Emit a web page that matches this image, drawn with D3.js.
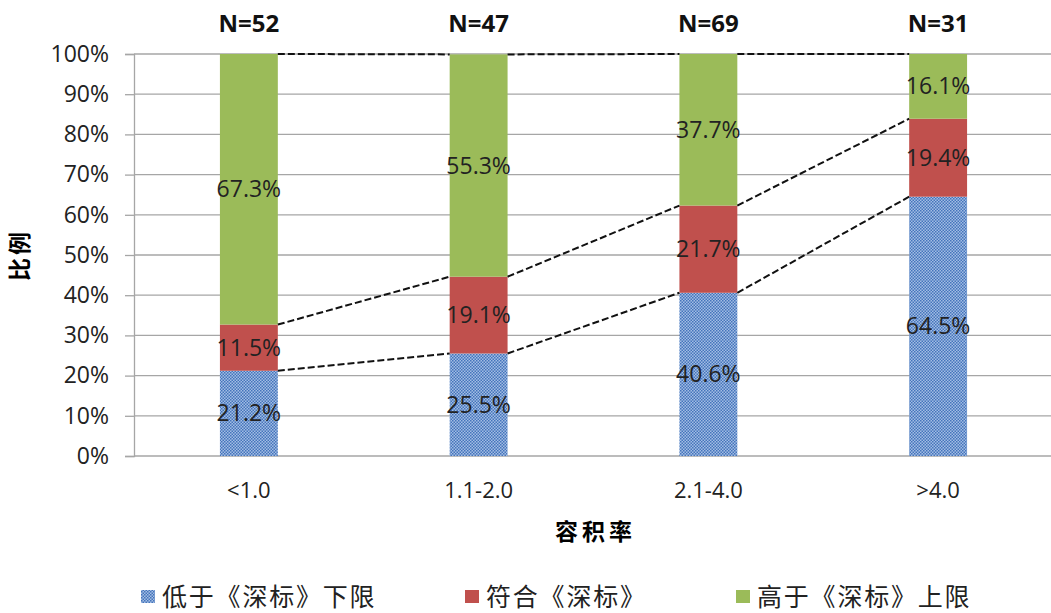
<!DOCTYPE html>
<html>
<head>
<meta charset="utf-8">
<script src="https://cdn.jsdelivr.net/npm/d3@7"></script>
<style>
  body { margin: 0; background: #fff; }
  text { font-family: "Open Sans", "Liberation Sans", "Noto Sans CJK SC", sans-serif; }
</style>
</head>
<body>
<div id="chart"></div>
<script>
// data
var categories = ["<1.0", "1.1-2.0", "2.1-4.0", ">4.0"];
var counts = [52, 47, 69, 31];
var below = [21.2, 25.5, 40.6, 64.5];
var within = [11.5, 19.1, 21.7, 19.4];
var above = [67.3, 55.3, 37.7, 16.1];
var seriesNames = ["低于《深标》下限", "符合《深标》", "高于《深标》上限"];
var yTicks = [0, 10, 20, 30, 40, 50, 60, 70, 80, 90, 100];

var svgWidth = 1051;
var svgHeight = 613;
var margin = { top: 54, right: -2, bottom: 157, left: 134 };
var width = svgWidth - margin.left - margin.right;
var height = svgHeight - margin.top - margin.bottom;

var colors = ["url(#dots)", "#c0504d", "#9bbb59"];

var svg = d3.select("#chart")
  .append("svg")
  .attr("width", svgWidth)
  .attr("height", svgHeight);

// dotted blue fill like the original
var defs = svg.append("defs");
var pat = defs.append("pattern")
  .attr("id", "dots")
  .attr("patternUnits", "userSpaceOnUse")
  .attr("width", 3)
  .attr("height", 3);
pat.append("rect").attr("width", 3).attr("height", 3).attr("fill", "#a3bde4");
pat.append("rect").attr("x", 0).attr("y", 0).attr("width", 1.5).attr("height", 1.5).attr("fill", "#4474bb");
pat.append("rect").attr("x", 1.5).attr("y", 1.5).attr("width", 1.5).attr("height", 1.5).attr("fill", "#4474bb");

var chartGroup = svg.append("g")
  .attr("transform", `translate(${margin.left}, ${margin.top})`);

var xScale = d3.scaleBand()
  .domain(categories)
  .range([0, width])
  .paddingInner(0.748)
  .paddingOuter(0.374);

var yScale = d3.scaleLinear()
  .domain([0, 100])
  .range([height, 0]);

// gridlines
chartGroup.append("g")
  .selectAll("line")
  .data(yTicks)
  .enter()
  .append("line")
  .attr("x1", 0)
  .attr("x2", width)
  .attr("y1", d => yScale(d))
  .attr("y2", d => yScale(d))
  .attr("stroke", "#a6a6a6")
  .attr("stroke-width", 1.3);

// y axis
var leftAxis = d3.axisLeft(yScale)
  .tickValues(yTicks)
  .tickSize(9)
  .tickPadding(16)
  .tickFormat(d => d + "%");

var yAxis = chartGroup.append("g").call(leftAxis);
yAxis.select(".domain").attr("stroke", "#a6a6a6").attr("stroke-width", 1.3);
yAxis.selectAll(".tick line").attr("stroke", "#a6a6a6").attr("stroke-width", 1.3);
yAxis.selectAll(".tick text")
  .attr("font-size", 23)
  .attr("fill", "#222")
  .style("font-family", "'Open Sans', sans-serif");

// x axis labels
var bottomAxis = d3.axisBottom(xScale).tickSize(0).tickPadding(26);
var xAxis = chartGroup.append("g")
  .attr("transform", `translate(0, ${height})`)
  .call(bottomAxis);
xAxis.select(".domain").remove();
xAxis.selectAll(".tick text")
  .attr("font-size", 22)
  .attr("fill", "#222")
  .style("font-family", "'Open Sans', sans-serif");

// stack the three series
var rows = categories.map((c, i) => ({ cat: c, s0: below[i], s1: within[i], s2: above[i] }));
var stacked = d3.stack().keys(["s0", "s1", "s2"])(rows);

var layers = chartGroup.selectAll(".layer")
  .data(stacked)
  .enter()
  .append("g")
  .attr("class", "layer")
  .attr("fill", (d, i) => colors[i]);

layers.selectAll("rect")
  .data(d => d)
  .enter()
  .append("rect")
  .attr("x", d => xScale(d.data.cat))
  .attr("y", d => yScale(d[1]))
  .attr("width", xScale.bandwidth())
  .attr("height", d => yScale(d[0]) - yScale(d[1]));

// dashed connectors between the segment tops
var connectors = [];
stacked.forEach(function(layer) {
  for (var i = 0; i < layer.length - 1; i++) {
    connectors.push({
      x1: xScale(categories[i]) + xScale.bandwidth(),
      y1: yScale(layer[i][1]),
      x2: xScale(categories[i + 1]),
      y2: yScale(layer[i + 1][1])
    });
  }
});
chartGroup.append("g")
  .selectAll("line")
  .data(connectors)
  .enter()
  .append("line")
  .attr("x1", d => d.x1)
  .attr("y1", d => d.y1)
  .attr("x2", d => d.x2)
  .attr("y2", d => d.y2)
  .attr("stroke", "#111")
  .attr("stroke-width", 2)
  .attr("stroke-dasharray", "7,3");

// value labels
layers.selectAll("text")
  .data(d => d)
  .enter()
  .append("text")
  .attr("x", d => xScale(d.data.cat) + xScale.bandwidth() / 2)
  .attr("y", d => yScale((d[0] + d[1]) / 2))
  .attr("dy", "0.35em")
  .attr("text-anchor", "middle")
  .attr("font-size", 23)
  .attr("fill", "#222")
  .text(d => (d[1] - d[0]).toFixed(1) + "%");

// N labels on top
chartGroup.append("g")
  .selectAll("text")
  .data(counts)
  .enter()
  .append("text")
  .attr("x", (d, i) => xScale(categories[i]) + xScale.bandwidth() / 2)
  .attr("y", -22)
  .attr("text-anchor", "middle")
  .attr("font-size", 24)
  .attr("font-weight", "bold")
  .attr("fill", "#111")
  .text(d => "N=" + d);

// axis titles
svg.append("text")
  .attr("transform", `translate(28, ${margin.top + height / 2}) rotate(-90)`)
  .attr("text-anchor", "middle")
  .attr("font-size", 23)
  .attr("font-weight", "bold")
  .attr("letter-spacing", 3)
  .style("font-family", "'Noto Sans CJK SC', sans-serif")
  .text("比例");

svg.append("text")
  .attr("x", margin.left + width / 2 + 2)
  .attr("y", 540)
  .attr("text-anchor", "middle")
  .attr("font-size", 23)
  .attr("font-weight", "bold")
  .attr("letter-spacing", 4)
  .style("font-family", "'Noto Sans CJK SC', sans-serif")
  .text("容积率");

// legend
var legendX = [141, 465, 736];
var legend = svg.append("g")
  .selectAll("g")
  .data(seriesNames)
  .enter()
  .append("g")
  .attr("transform", (d, i) => `translate(${legendX[i]}, 597)`);

legend.append("rect")
  .attr("x", 0)
  .attr("y", -7)
  .attr("width", 14)
  .attr("height", 13)
  .attr("fill", (d, i) => colors[i]);

legend.append("text")
  .attr("x", 21)
  .attr("y", 0)
  .attr("dy", "0.36em")
  .attr("font-size", 25)
  .attr("letter-spacing", 1.8)
  .attr("fill", "#222")
  .style("font-family", "'Noto Sans CJK SC', sans-serif")
  .text(d => d);
</script>
</body>
</html>
